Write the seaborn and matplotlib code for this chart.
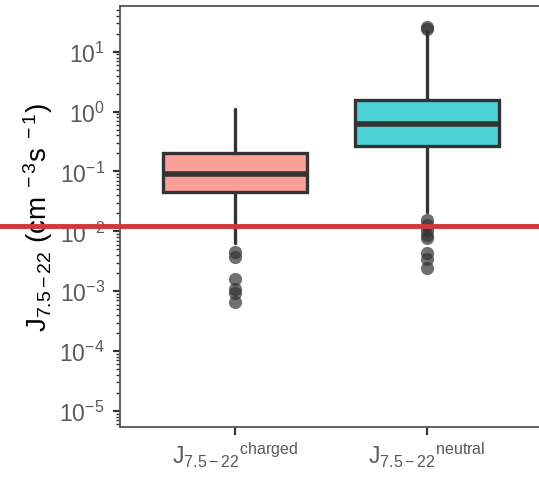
import numpy as np
import pandas as pd
import matplotlib
matplotlib.use("Agg")
import matplotlib.pyplot as plt
import matplotlib.ticker as mticker
import seaborn as sns

# Box summary per group (cm^-3 s^-1)
groups = ["charged", "neutral"]
whisker_low = [0.0063, 0.021]
q1 = [0.046, 0.27]
median = [0.089, 0.63]
q3 = [0.207, 1.58]
whisker_high = [1.12, 22.0]

# Points beyond the whiskers
outliers_charged = [0.0045, 0.0038, 0.0016, 0.0011, 0.00095, 0.00065]
outliers_neutral = [26.0, 24.0, 0.0152, 0.0126, 0.0105, 0.0088, 0.0076, 0.0043, 0.0035, 0.0024]

threshold = 0.0121

y_major_ticks = [1e-5, 1e-4, 1e-3, 1e-2, 1e-1, 1e0, 1e1]
fill_colors = ["#F8766D", "#00BFC4"]
tick_labels = [r"$\mathrm{J}_{7.5-22}{}^{\mathrm{charged}}$",
               r"$\mathrm{J}_{7.5-22}{}^{\mathrm{neutral}}$"]

sns.set_style("white")
plt.rcParams["font.family"] = ["Liberation Sans", "DejaVu Sans"]
plt.rcParams["mathtext.fontset"] = "custom"
plt.rcParams["mathtext.rm"] = "Liberation Sans"
plt.rcParams["mathtext.it"] = "Liberation Sans:italic"
plt.rcParams["mathtext.bf"] = "Liberation Sans:bold"
plt.rcParams["mathtext.default"] = "regular"

fig = plt.figure(figsize=(5.39, 4.85), dpi=100)
ax = fig.add_axes([120 / 539, 57 / 485, 422 / 539, 421 / 485])

dark = "#333333"

# outliers through seaborn
flier_df = pd.DataFrame({
    "group": ["charged"] * len(outliers_charged) + ["neutral"] * len(outliers_neutral),
    "value": outliers_charged + outliers_neutral,
})
sns.stripplot(data=flier_df, x="group", y="value", order=groups, jitter=False,
              color=dark, alpha=0.7, size=9.5, linewidth=0, ax=ax, zorder=4)

stats = []
for i, g in enumerate(groups):
    stats.append(dict(label=g, whislo=whisker_low[i], q1=q1[i], med=median[i],
                      q3=q3[i], whishi=whisker_high[i], fliers=[]))
bp = ax.bxp(stats, positions=[0, 1], widths=0.75, patch_artist=True,
            showcaps=False, showfliers=False,
            boxprops=dict(edgecolor=dark, linewidth=2.4),
            medianprops=dict(color=dark, linewidth=4, solid_capstyle="butt"),
            whiskerprops=dict(color=dark, linewidth=2.4))
for patch, c in zip(bp["boxes"], fill_colors):
    patch.set_facecolor(matplotlib.colors.to_rgba(c, 0.7))
    patch.set_zorder(2)

ax.set_yscale("log")
ax.set_ylim(5.4e-6, 58)
ax.set_xlim(-0.6, 1.6)
ax.set_yticks(y_major_ticks)
ax.yaxis.set_major_formatter(mticker.LogFormatterSciNotation(base=10))
ax.yaxis.set_minor_locator(mticker.LogLocator(base=10, subs=np.arange(2, 10), numticks=20))
ax.yaxis.set_minor_formatter(mticker.NullFormatter())

ax.set_xticks([0, 1])
ax.set_xticklabels(tick_labels, fontsize=16.5, color="#595959")
ax.set_xlabel(None)
ax.set_ylabel(r"$\mathrm{J}_{7.5-22}\ (\mathrm{cm}^{\ -3}\mathrm{s}^{\ -1})$",
              fontsize=20, color="black", labelpad=3)

ax.tick_params(axis="y", which="major", direction="out", length=5, width=1.6,
               color=dark, labelsize=16.5, labelcolor="#595959", left=True, pad=6)
ax.tick_params(axis="y", which="minor", direction="out", length=3, width=1.0,
               color=dark, left=True)
ax.tick_params(axis="x", which="major", direction="out", length=6, width=1.6,
               color=dark, bottom=True, pad=3)

for side in ["left", "bottom", "top"]:
    ax.spines[side].set_visible(True)
    ax.spines[side].set_color("#555555")
    ax.spines[side].set_linewidth(1.3)
ax.spines["right"].set_visible(False)
ax.grid(False)

ax.axhline(threshold, xmin=-0.5, xmax=1.5, color="#D0363B", linewidth=3.5,
           clip_on=False, zorder=10)

fig.savefig("out.png", dpi=100)
